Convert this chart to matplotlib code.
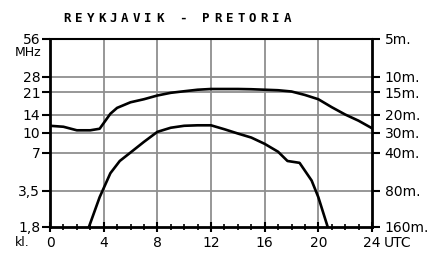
# Reykjavik - Pretoria propagation chart (MUF / LUF over the day)
import matplotlib.pyplot as plt
from matplotlib.ticker import NullLocator

# upper curve
utc_muf = [0, 1, 2, 3, 3.7, 4.5, 5, 6, 7, 8, 9, 10, 11, 12, 13, 14, 15, 16, 17, 18, 19, 20, 21, 22, 23, 24]
muf = [11.4, 11.2, 10.5, 10.5, 10.8, 14.2, 15.8, 17.5, 18.5, 19.8, 20.8, 21.4, 22.0, 22.3, 22.3, 22.3,
       22.2, 22.0, 21.8, 21.3, 20.0, 18.5, 16.0, 14.0, 12.5, 10.9]

# lower curve
utc_low = [2.9, 3.7, 4.5, 5.2, 6, 7, 8, 9, 10, 11, 12, 13, 14, 15, 16, 17, 17.7, 18.6, 19.5, 20, 20.7]
low = [1.8, 3.1, 4.8, 6.0, 7.0, 8.5, 10.2, 11.0, 11.4, 11.5, 11.5, 10.7, 9.9, 9.2, 8.2, 7.1, 6.0, 5.8,
       4.2, 3.1, 1.8]

mhz_ticks = [1.8, 3.5, 7, 10, 14, 21, 28, 56]
mhz_labels = ['1,8', '3,5', '7', '10', '14', '21', '28', '56']
band_labels = ['160m.', '80m.', '40m.', '30m.', '20m.', '15m.', '10m.', '5m.']
hour_ticks = [0, 4, 8, 12, 16, 20, 24]
title = "REYKJAVIK - PRETORIA"

W, H = 440, 258
fig = plt.figure(figsize=(W / 100, H / 100), dpi=100)
ax = fig.add_axes([50 / W, (H - 227) / H, 322 / W, 188.5 / H])

ax.set_yscale('log')
ax.set_xlim(0, 24)
ax.set_ylim(1.8, 56)

# grid
for f in mhz_ticks[1:-1]:
    ax.axhline(f, color='#8f8f8f', lw=1.3, zorder=1)
for h in hour_ticks[1:-1]:
    ax.axvline(h, color='#8f8f8f', lw=1.3, zorder=1)

ax.plot(utc_muf, muf, color='black', lw=1.9, zorder=3)
ax.plot(utc_low, low, color='black', lw=1.9, zorder=3)

for s in ['left', 'bottom', 'right']:
    ax.spines[s].set_linewidth(2)
ax.spines['top'].set_linewidth(1.5)

ax.yaxis.set_minor_locator(NullLocator())
ax.set_yticks(mhz_ticks)
ax.set_yticklabels(mhz_labels)
ax.tick_params(axis='y', direction='out', length=6, width=1.5, labelsize=10, pad=1)

ax.set_xticks(hour_ticks)
ax.set_xticklabels([str(h) for h in hour_ticks])
ax.set_xticks(range(25), minor=True)
ax.tick_params(axis='x', which='major', direction='inout', length=7, width=1.5, labelsize=10, pad=3)
ax.tick_params(axis='x', which='minor', direction='inout', length=5, width=1.2)

ax2 = ax.twinx()
ax2.set_yscale('log')
ax2.set_ylim(1.8, 56)
ax2.yaxis.set_minor_locator(NullLocator())
ax2.set_yticks(mhz_ticks)
ax2.set_yticklabels(band_labels)
ax2.tick_params(axis='y', direction='out', length=6, width=1.5, labelsize=10, pad=3)
for s in ax2.spines.values():
    s.set_visible(False)

# extra labels
fig.text(41 / W, 1 - 52 / H, 'MHz', fontsize=9, ha='right', va='center')
fig.text(30 / W, 1 - 243 / H, 'kl.', fontsize=9, ha='right', va='center')
fig.text(384 / W, 1 - 243 / H, 'UTC', fontsize=10, ha='left', va='center')

# spaced-out title
x = 62
for ch in title:
    fig.text((x + 5) / W, 1 - 18 / H, ch, fontsize=9, family='DejaVu Sans Mono',
             weight='bold', ha='center', va='center')
    x += 11.6

fig.savefig('out.png', dpi=100)
